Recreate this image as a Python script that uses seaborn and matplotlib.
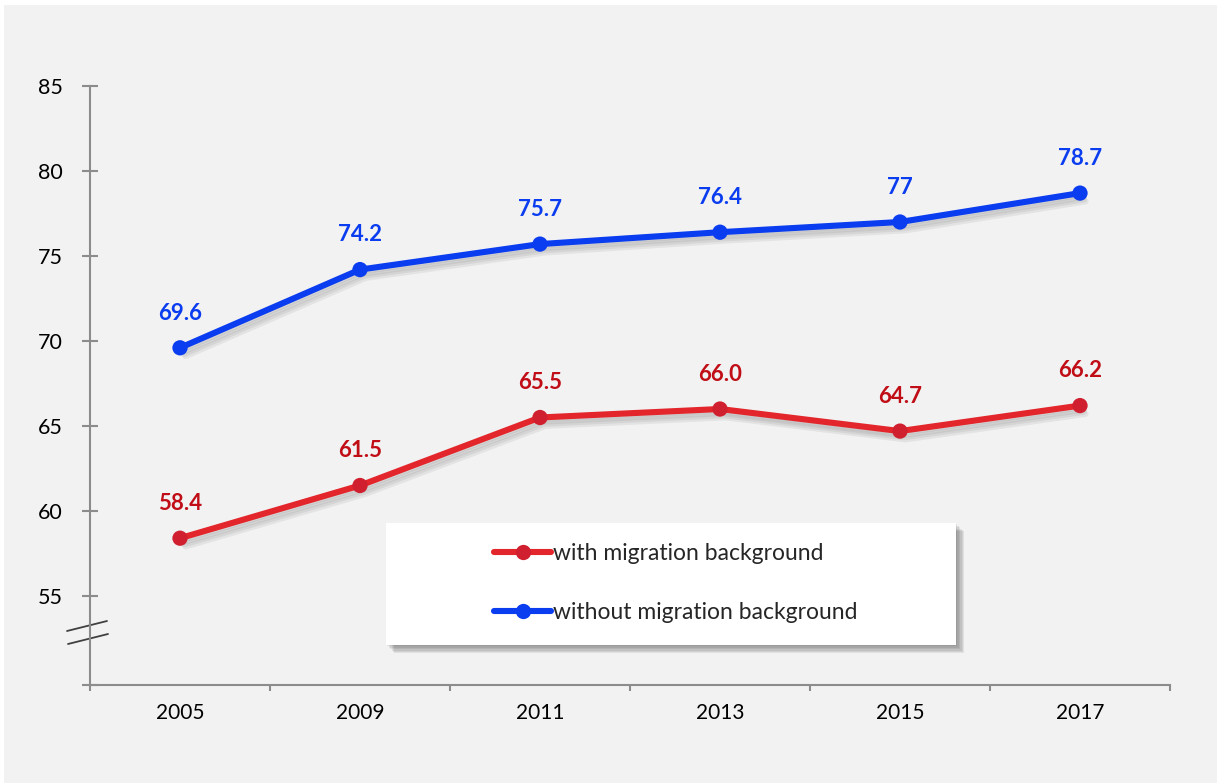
import matplotlib
matplotlib.use("Agg")
import matplotlib.pyplot as plt
import matplotlib.patheffects as pe
from matplotlib.patches import Rectangle
from matplotlib.lines import Line2D
import seaborn as sns
import pandas as pd

years = ["2005", "2009", "2011", "2013", "2015", "2017"]
with_migration = [58.4, 61.5, 65.5, 66.0, 64.7, 66.2]
without_migration = [69.6, 74.2, 75.7, 76.4, 77.0, 78.7]
series_names = ["with migration background", "without migration background"]
y_ticks = [55, 60, 65, 70, 75, 80, 85]

line_colors = {"with migration background": "#e3262b",
               "without migration background": "#0a3cf0"}
marker_colors = {"with migration background": "#d0202f",
                 "without migration background": "#0a3cf0"}
label_colors = {"with migration background": "#c00d16",
                "without migration background": "#0a3cf0"}

df = pd.DataFrame({
    "year": years * 2,
    "value": with_migration + without_migration,
    "series": [series_names[0]] * len(years) + [series_names[1]] * len(years),
})

sns.set_theme(style="white")
plt.rcParams["font.family"] = ["Lato", "DejaVu Sans"]

W, H = 1217, 783
fig = plt.figure(figsize=(W / 100, H / 100), dpi=100, facecolor="white")
# grey panel behind the chart
fig.patches.append(Rectangle((4 / W, 0), 1, 1 - 5 / H, transform=fig.transFigure,
                             facecolor="#f2f2f2", edgecolor="none", zorder=-10))

ax_left, ax_right, ax_top, ax_bottom = 90, 1170, 86, 685
ax = fig.add_axes([ax_left / W, 1 - ax_bottom / H,
                   (ax_right - ax_left) / W, (ax_bottom - ax_top) / H])
ax.set_facecolor("none")

ymax = 85
ymin = ymax - (ax_bottom - ax_top) / 17.0

sns.lineplot(data=df, x="year", y="value", hue="series", palette=line_colors,
             linewidth=4.4, marker="o", markersize=11, markeredgewidth=0,
             sort=False, legend=False, ax=ax)

# soft drop shadow built from a few faint offset copies
def soft_line_shadow():
    effects = [pe.SimpleLineShadow(offset=(d, -1.5 * d), shadow_color="black", alpha=0.06)
               for d in (1, 2, 3, 4)]
    return effects + [pe.Normal()]

for line, name in zip(ax.lines, series_names):
    line.set_markerfacecolor(marker_colors[name])
    line.set_path_effects(soft_line_shadow())
    line.set_solid_capstyle("round")

# value labels above each point
for name in series_names:
    sub = df[df["series"] == name]
    for yr, v in zip(sub["year"], sub["value"]):
        txt = f"{v:g}" if name == series_names[1] else f"{v:.1f}"
        ax.annotate(txt, (yr, v), xytext=(0, 25), textcoords="offset points",
                    ha="center", va="center", fontsize=16, fontweight="bold",
                    color=label_colors[name])

ax.set_xlim(-0.5, len(years) - 0.5)
ax.set_ylim(ymin, ymax)
ax.set_xlabel("")
ax.set_ylabel("")

axis_gray = "#8c8c8c"
for s in ["top", "right"]:
    ax.spines[s].set_visible(False)
for s in ["left", "bottom"]:
    ax.spines[s].set_color(axis_gray)
    ax.spines[s].set_linewidth(1.5)

ax.set_yticks(y_ticks)
ax.set_yticks([ymin], minor=True)
ax.tick_params(axis="y", which="both", direction="inout", length=11.5, width=1.5,
               color=axis_gray, labelsize=15.5, labelcolor="black", pad=14, left=True)
ax.set_xticks(range(len(years)))
ax.set_xticklabels(years)
ax.set_xticks([i - 0.5 for i in range(len(years) + 1)], minor=True)
ax.tick_params(axis="x", which="major", length=0, labelsize=15, labelcolor="black", pad=13)
ax.tick_params(axis="x", which="minor", direction="out", length=4, width=1.5,
               color=axis_gray, bottom=True)

# axis break marks
def px_to_ax(x, y):
    return (x - ax_left) / (ax_right - ax_left), (ax_bottom - y) / (ax_bottom - ax_top)

for (x0, y0), (x1, y1) in [((67, 631), (107, 621)), ((68, 644), (108, 634))]:
    a0 = px_to_ax(x0, y0)
    a1 = px_to_ax(x1, y1)
    ax.add_line(Line2D([a0[0], a1[0]], [a0[1], a1[1]], transform=ax.transAxes,
                       color="#404040", linewidth=1.3, clip_on=False))

# legend box with soft drop shadow
lx0, lx1, ly0, ly1 = 386, 956, 523, 645
box_shadow = [pe.SimplePatchShadow(offset=(d, -d), shadow_rgbFace="black", alpha=0.07)
              for d in (1, 2, 3, 4, 5, 6)]
fig.patches.append(Rectangle((lx0 / W, 1 - ly1 / H), (lx1 - lx0) / W, (ly1 - ly0) / H,
                             transform=fig.transFigure, facecolor="white",
                             edgecolor="none", zorder=5,
                             path_effects=box_shadow + [pe.Normal()]))

handles = [Line2D([], [], color=line_colors[n], linewidth=4.4, marker="o",
                  markersize=11, markerfacecolor=marker_colors[n],
                  markeredgewidth=0) for n in series_names]
leg = fig.legend(handles, series_names, loc="center left",
                 bbox_to_anchor=(494 / W, 1 - 583 / H), frameon=False,
                 fontsize=16.5, handlelength=2.5, handletextpad=0.08,
                 labelspacing=1.7, borderpad=0, borderaxespad=0)
leg.set_zorder(6)

fig.savefig("out.png", dpi=100, facecolor=fig.get_facecolor())
